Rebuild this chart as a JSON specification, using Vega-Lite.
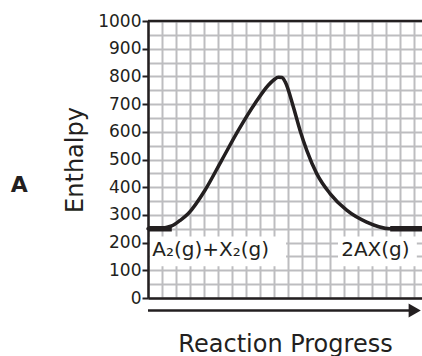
{
  "$schema": "https://vega.github.io/schema/vega-lite/v6.json",
  "width": 274,
  "height": 277,
  "autosize": "none",
  "padding": {"left": 148, "top": 21, "right": 0, "bottom": 58},
  "background": "white",
  "config": {
    "view": {"stroke": null},
    "font": "DejaVu Sans"
  },
  "datasets": {
    "curve": [
      {"progress": 0, "enthalpy": 250},
      {"progress": 0.86, "enthalpy": 251},
      {"progress": 1.69, "enthalpy": 260},
      {"progress": 2.29, "enthalpy": 280},
      {"progress": 2.88, "enthalpy": 305},
      {"progress": 4.07, "enthalpy": 389},
      {"progress": 5.26, "enthalpy": 497},
      {"progress": 6.45, "enthalpy": 605},
      {"progress": 7.64, "enthalpy": 702},
      {"progress": 8.59, "enthalpy": 768},
      {"progress": 9.0, "enthalpy": 788},
      {"progress": 9.31, "enthalpy": 797},
      {"progress": 9.57, "enthalpy": 796},
      {"progress": 9.8, "enthalpy": 780},
      {"progress": 10.38, "enthalpy": 690},
      {"progress": 10.86, "enthalpy": 605},
      {"progress": 11.34, "enthalpy": 533},
      {"progress": 12.05, "enthalpy": 449},
      {"progress": 13.0, "enthalpy": 377},
      {"progress": 14.19, "enthalpy": 317},
      {"progress": 15.62, "enthalpy": 274},
      {"progress": 17.29, "enthalpy": 250},
      {"progress": 19.57, "enthalpy": 250}
    ],
    "levels": [
      {"start": 0, "end": 1.7, "enthalpy": 250},
      {"start": 17.3, "end": 19.57, "enthalpy": 250}
    ],
    "labels": [
      {"label": "A₂(g)+X₂(g)", "progress": 0.3, "enthalpy": 172, "boxStart": 0.14, "boxEnd": 9.86, "boxLow": 115, "boxHigh": 222},
      {"label": "2AX(g)", "progress": 13.8, "enthalpy": 172, "boxStart": 13.57, "boxEnd": 19.2, "boxLow": 115, "boxHigh": 222}
    ]
  },
  "layer": [
    {
      "data": {"name": "labels"},
      "mark": {"type": "rect", "color": "white"},
      "encoding": {
        "x": {
          "field": "boxStart", "type": "quantitative",
          "scale": {"domain": [0, 19.57], "nice": false, "zero": false},
          "axis": {
            "values": [0,1,2,3,4,5,6,7,8,9,10,11,12,13,14,15,16,17,18,19],
            "tickCount": 100,
            "grid": true, "gridColor": "#bdbdc0", "gridWidth": 2,
            "ticks": false, "labels": false,
            "domainColor": "#231f20", "domainWidth": 2.5,
            "title": "Reaction Progress", "titleFontSize": 24, "titleFontWeight": "normal",
            "titleColor": "#231f20", "titlePadding": 34
          }
        },
        "x2": {"field": "boxEnd"},
        "y": {
          "field": "boxLow", "type": "quantitative",
          "scale": {"domain": [0, 1000], "nice": false},
          "axis": {
            "values": [0,50,100,150,200,250,300,350,400,450,500,550,600,650,700,750,800,850,900,950,1000],
            "tickCount": 100,
            "format": "d",
            "labelOverlap": false,
            "grid": true, "gridColor": "#bdbdc0", "gridWidth": 2,
            "tickSize": 6, "tickWidth": 2, "tickColor": "#231f20",
            "tickOpacity": {"condition": {"test": "datum.value % 100 === 0", "value": 1}, "value": 0},
            "labelExpr": "datum.value % 100 === 0 ? datum.label : ''",
            "labelFontSize": 17, "labelColor": "#231f20", "labelPadding": 1,
            "domainColor": "#231f20", "domainWidth": 2.5,
            "title": "Enthalpy", "titleFontSize": 24, "titleFontWeight": "normal",
            "titleColor": "#231f20", "titlePadding": 10
          }
        },
        "y2": {"field": "boxHigh"}
      }
    },
    {
      "data": {"name": "labels"},
      "mark": {"type": "text", "align": "left", "baseline": "middle", "fontSize": 20, "color": "#231f20"},
      "encoding": {
        "x": {"field": "progress", "type": "quantitative"},
        "y": {"field": "enthalpy", "type": "quantitative"},
        "text": {"field": "label"}
      }
    },
    {
      "data": {"values": [{}]},
      "mark": {"type": "rule", "color": "#231f20", "strokeWidth": 2.5},
      "encoding": {
        "x": {"datum": 0},
        "x2": {"datum": 19.57},
        "y": {"datum": 1000}
      }
    },
    {
      "data": {"values": [{}]},
      "mark": {"type": "rule", "color": "#231f20", "strokeWidth": 2.5},
      "encoding": {
        "x": {"datum": 0},
        "x2": {"datum": 19.1},
        "y": {"datum": -45}
      }
    },
    {
      "data": {"values": [{}]},
      "mark": {"type": "point", "shape": "triangle-right", "filled": true, "color": "#231f20", "opacity": 1, "size": 200},
      "encoding": {
        "x": {"datum": 19.05},
        "y": {"datum": -45}
      }
    },
    {
      "data": {"values": [{}]},
      "mark": {"type": "text", "text": "A", "fontSize": 22, "fontWeight": "bold", "align": "center", "baseline": "middle", "color": "#231f20"},
      "encoding": {
        "x": {"datum": -9.2},
        "y": {"datum": 407}
      }
    },
    {
      "data": {"name": "levels"},
      "mark": {"type": "rule", "color": "#231f20", "strokeWidth": 5.5},
      "encoding": {
        "x": {"field": "start", "type": "quantitative"},
        "x2": {"field": "end"},
        "y": {"field": "enthalpy", "type": "quantitative"}
      }
    },
    {
      "data": {"name": "curve"},
      "mark": {"type": "line", "interpolate": "monotone", "color": "#231f20", "strokeWidth": 3.5, "strokeCap": "round"},
      "encoding": {
        "x": {"field": "progress", "type": "quantitative"},
        "y": {"field": "enthalpy", "type": "quantitative"}
      }
    }
  ]
}
